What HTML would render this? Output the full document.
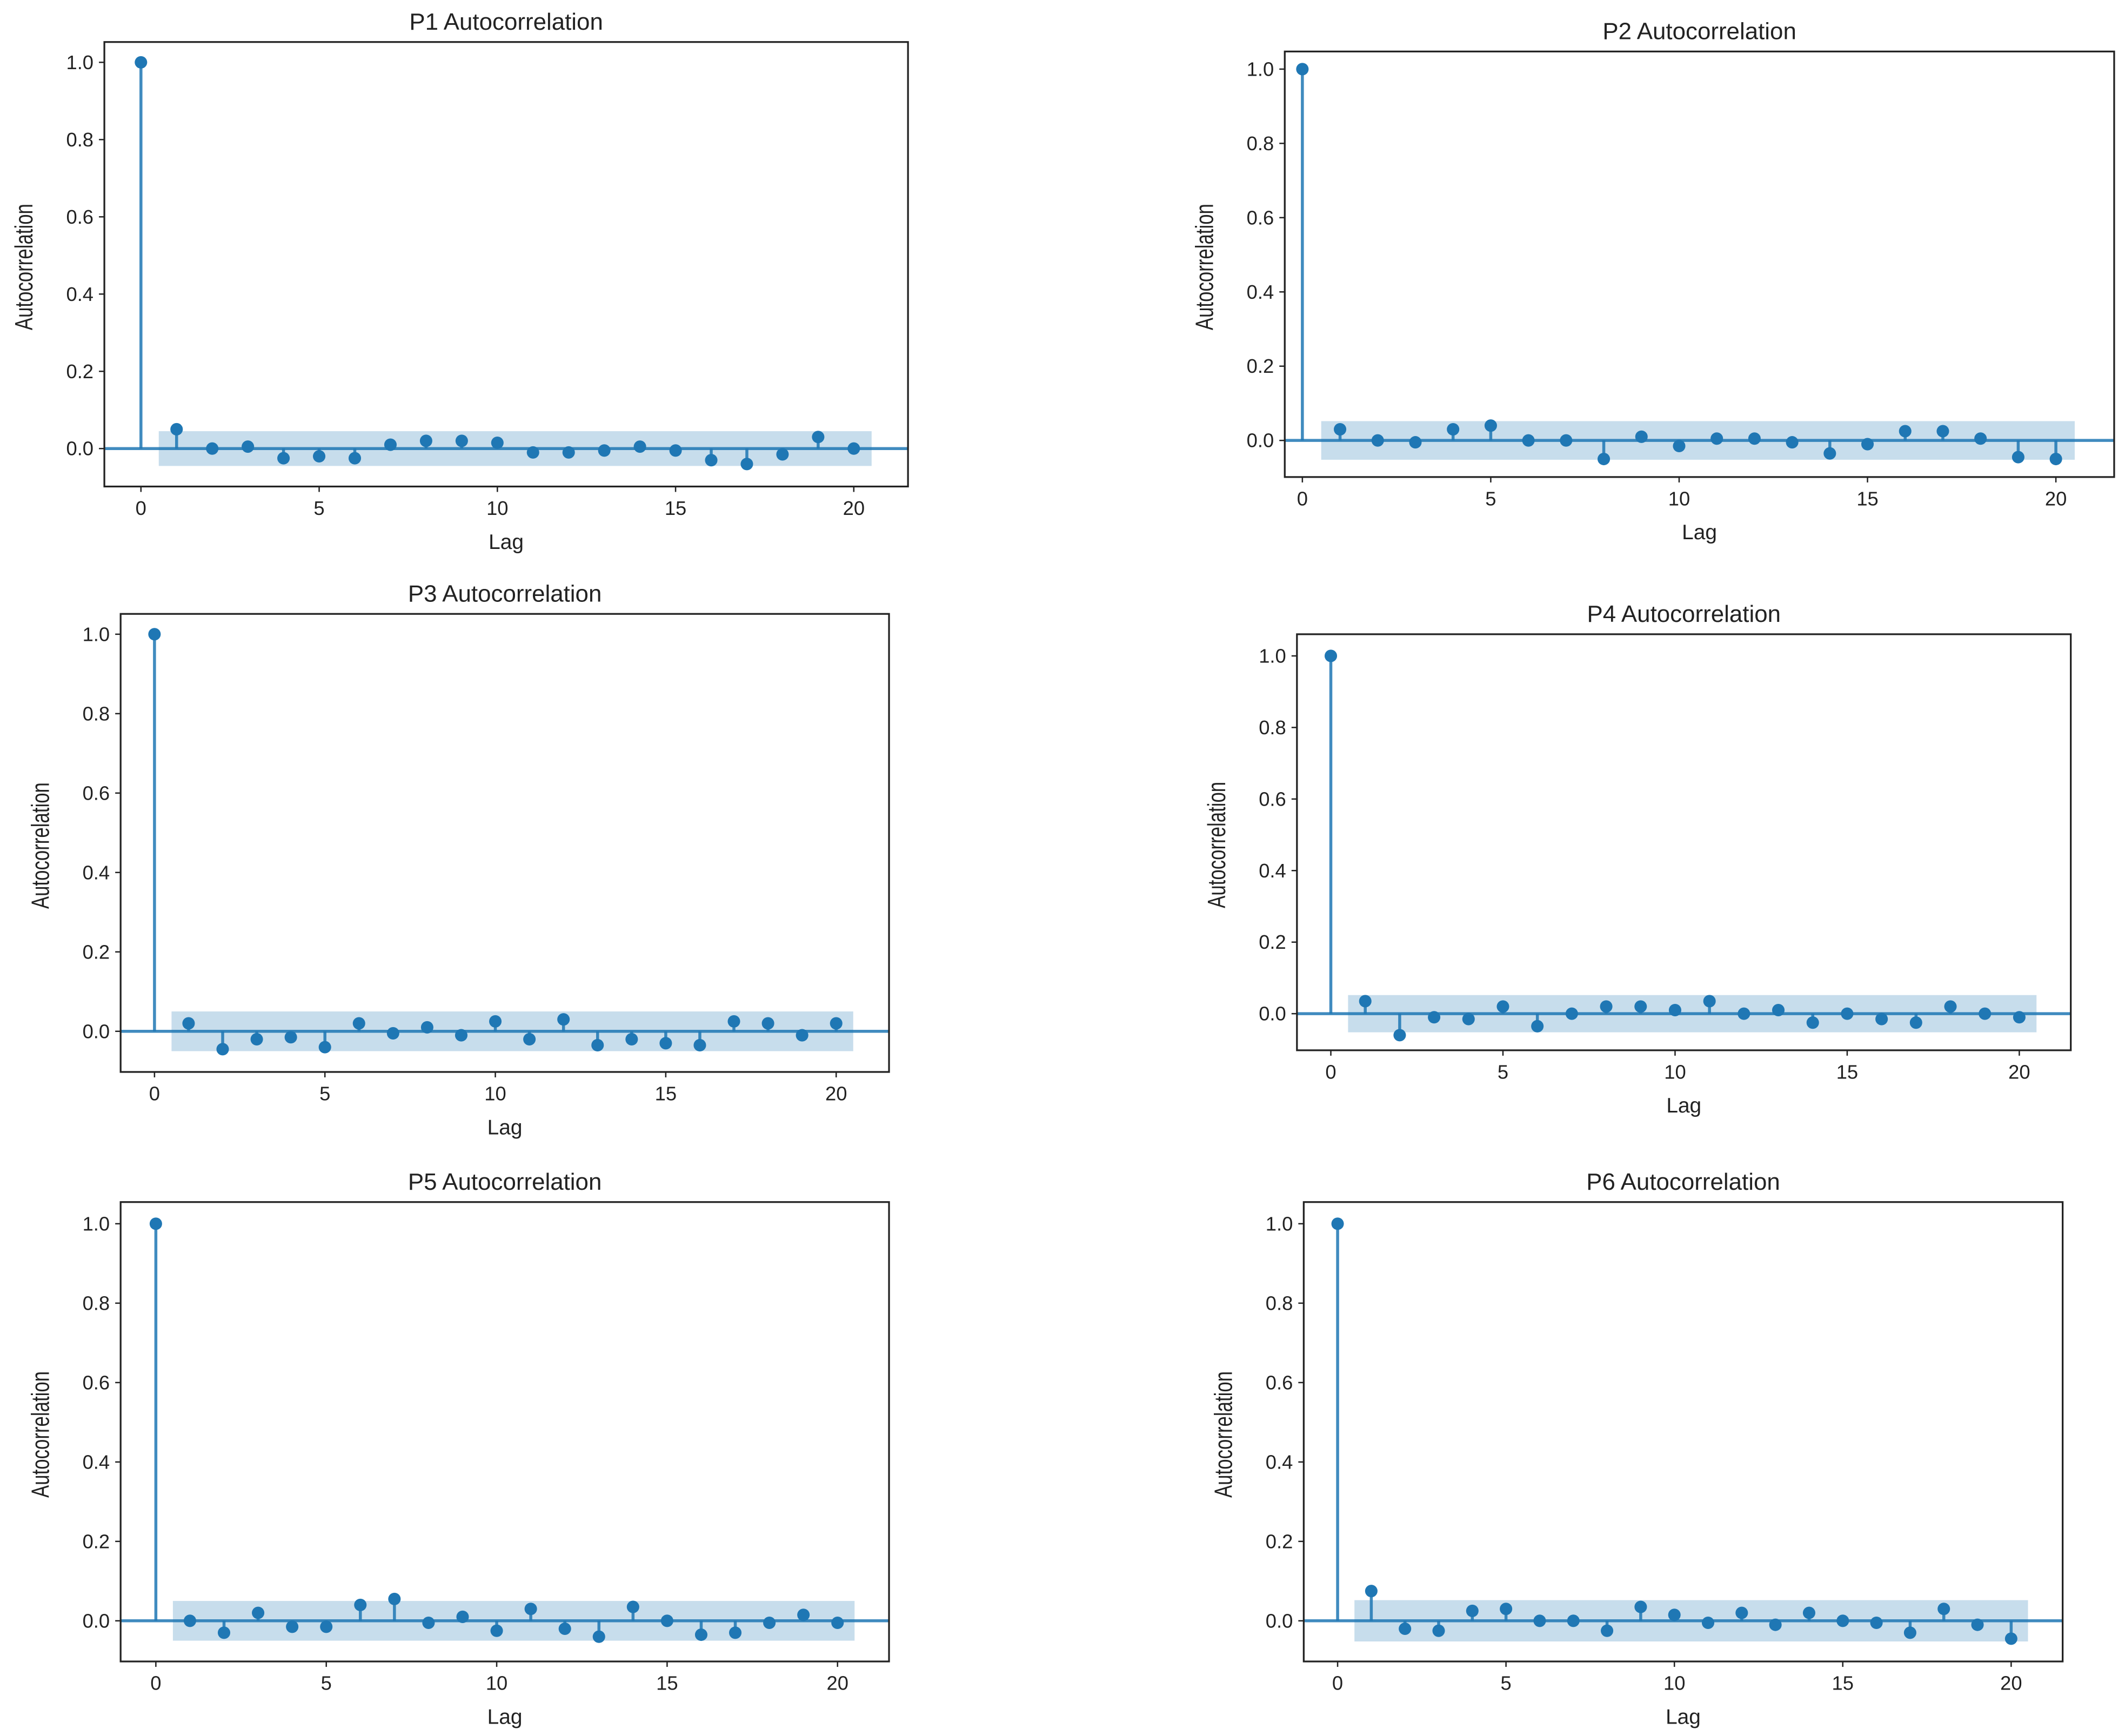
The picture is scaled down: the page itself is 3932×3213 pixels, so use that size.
<!DOCTYPE html>
<html><head><meta charset="utf-8">
<style>
html,body{margin:0;padding:0;background:#fff;}
svg{display:block;}
text{font-family:"Liberation Sans",sans-serif;fill:#222;}
</style></head>
<body>
<svg id="fig" width="3932" height="3213" viewBox="0 0 1568 1281" preserveAspectRatio="none" xmlns="http://www.w3.org/2000/svg"></svg>
<script>
const lags = [0,1,2,3,4,5,6,7,8,9,10,11,12,13,14,15,16,17,18,19,20];
const yTicks = [0.0,0.2,0.4,0.6,0.8,1.0];
const xTicks = [0,5,10,15,20];
const titles = ["P1 Autocorrelation","P2 Autocorrelation","P3 Autocorrelation","P4 Autocorrelation","P5 Autocorrelation","P6 Autocorrelation"];
const acfP1 = [1,0.05,0.0,0.005,-0.025,-0.02,-0.025,0.01,0.02,0.02,0.015,-0.01,-0.01,-0.005,0.005,-0.005,-0.03,-0.04,-0.015,0.03,0.0];
const acfP2 = [1,0.03,0,-0.005,0.03,0.04,0,0,-0.05,0.01,-0.015,0.005,0.005,-0.005,-0.035,-0.01,0.025,0.025,0.005,-0.045,-0.05];
const acfP3 = [1,0.02,-0.045,-0.02,-0.015,-0.04,0.02,-0.005,0.01,-0.01,0.025,-0.02,0.03,-0.035,-0.02,-0.03,-0.035,0.025,0.02,-0.01,0.02];
const acfP4 = [1,0.035,-0.06,-0.01,-0.015,0.02,-0.035,0,0.02,0.02,0.01,0.035,0,0.01,-0.025,0,-0.015,-0.025,0.02,0,-0.01];
const acfP5 = [1,0,-0.03,0.02,-0.015,-0.015,0.04,0.055,-0.005,0.01,-0.025,0.03,-0.02,-0.04,0.035,0,-0.035,-0.03,-0.005,0.015,-0.005];
const acfP6 = [1,0.075,-0.02,-0.025,0.025,0.03,0,0,-0.025,0.035,0.015,-0.005,0.02,-0.01,0.02,0,-0.005,-0.03,0.03,-0.01,-0.045];
const confBand = [0.045,0.052,0.05,0.052,0.05,0.052];
const series = [acfP1,acfP2,acfP3,acfP4,acfP5,acfP6];

const layouts = [
 {l:77,r:670,t:31,b:359,x0:104,x20:630,y0:331,y1:46},
 {l:948,r:1560,t:38,b:352,x0:961,x20:1517,y0:325,y1:51},
 {l:89,r:656,t:453,b:791,x0:114,x20:617,y0:761,y1:468},
 {l:957,r:1528,t:468,b:775,x0:982,x20:1490,y0:748,y1:484},
 {l:89,r:656,t:887,b:1226,x0:115,x20:618,y0:1196,y1:903},
 {l:962,r:1522,t:887,b:1226,x0:987,x20:1484,y0:1196,y1:903}
];
const NS="http://www.w3.org/2000/svg";
const svg=document.getElementById('fig');
function mk(tag,attrs,parent){const e=document.createElementNS(NS,tag);for(const k in attrs)e.setAttribute(k,attrs[k]);(parent||svg).appendChild(e);return e;}
const C="#1f77b4";
layouts.forEach((L,i)=>{
  const g=mk('g',{});
  
  
  const xs=v=>L.x0+(L.x20-L.x0)*v/20;
  const ys=v=>L.y0+(L.y1-L.y0)*v;
  const cx=(L.l+L.r)/2;
  const t=mk('text',{x:cx,y:L.t-9,'text-anchor':'middle','font-size':17.5},g);
  t.textContent=titles[i];
  
  
  const band=mk('rect',{x:xs(0.5),y:ys(confBand[i]),width:xs(20.5)-xs(0.5),height:ys(-confBand[i])-ys(confBand[i]),fill:C,'fill-opacity':0.25},g);
  
  
  const zl=mk('line',{x1:L.l,x2:L.r,y1:ys(0),y2:ys(0),stroke:C,'stroke-width':2.2,opacity:0.85},g);
  
  
  series[i].forEach((v,k)=>{
    const s=mk('line',{x1:xs(lags[k]),x2:xs(lags[k]),y1:ys(0),y2:ys(v),stroke:C,'stroke-width':2.2,opacity:0.85},g);
    
    
    const c=mk('circle',{cx:xs(lags[k]),cy:ys(v),r:4.6,fill:C},g);
    
    
  });
  const box=mk('rect',{x:L.l,y:L.t,width:L.r-L.l,height:L.b-L.t,fill:'none',stroke:'#222','stroke-width':1.3},g);
  
  
  yTicks.forEach(v=>{
    mk('line',{x1:L.l-4,x2:L.l,y1:ys(v),y2:ys(v),stroke:'#222','stroke-width':1},g);
    const tt=mk('text',{x:L.l-8,y:ys(v)+5,'text-anchor':'end','font-size':14.5},g);
    tt.textContent=v.toFixed(1);
    
    
  });
  xTicks.forEach(v=>{
    mk('line',{x1:xs(v),x2:xs(v),y1:L.b,y2:L.b+4,stroke:'#222','stroke-width':1},g);
    const tt=mk('text',{x:xs(v),y:L.b+21,'text-anchor':'middle','font-size':14.5},g);
    tt.textContent=String(v);
    
    
  });
  const xl=mk('text',{x:cx,y:L.b+46,'text-anchor':'middle','font-size':15.5},g);
  xl.textContent='Lag';
  
  
  const yc=(L.t+L.b)/2+2;
  const yl=mk('text',{x:0,y:0,'text-anchor':'middle','font-size':18.5,transform:`translate(${L.l-53},${yc}) rotate(-90) scale(0.75,1)`},g);
  yl.textContent='Autocorrelation';
  
  
});
</script>
</body></html>
